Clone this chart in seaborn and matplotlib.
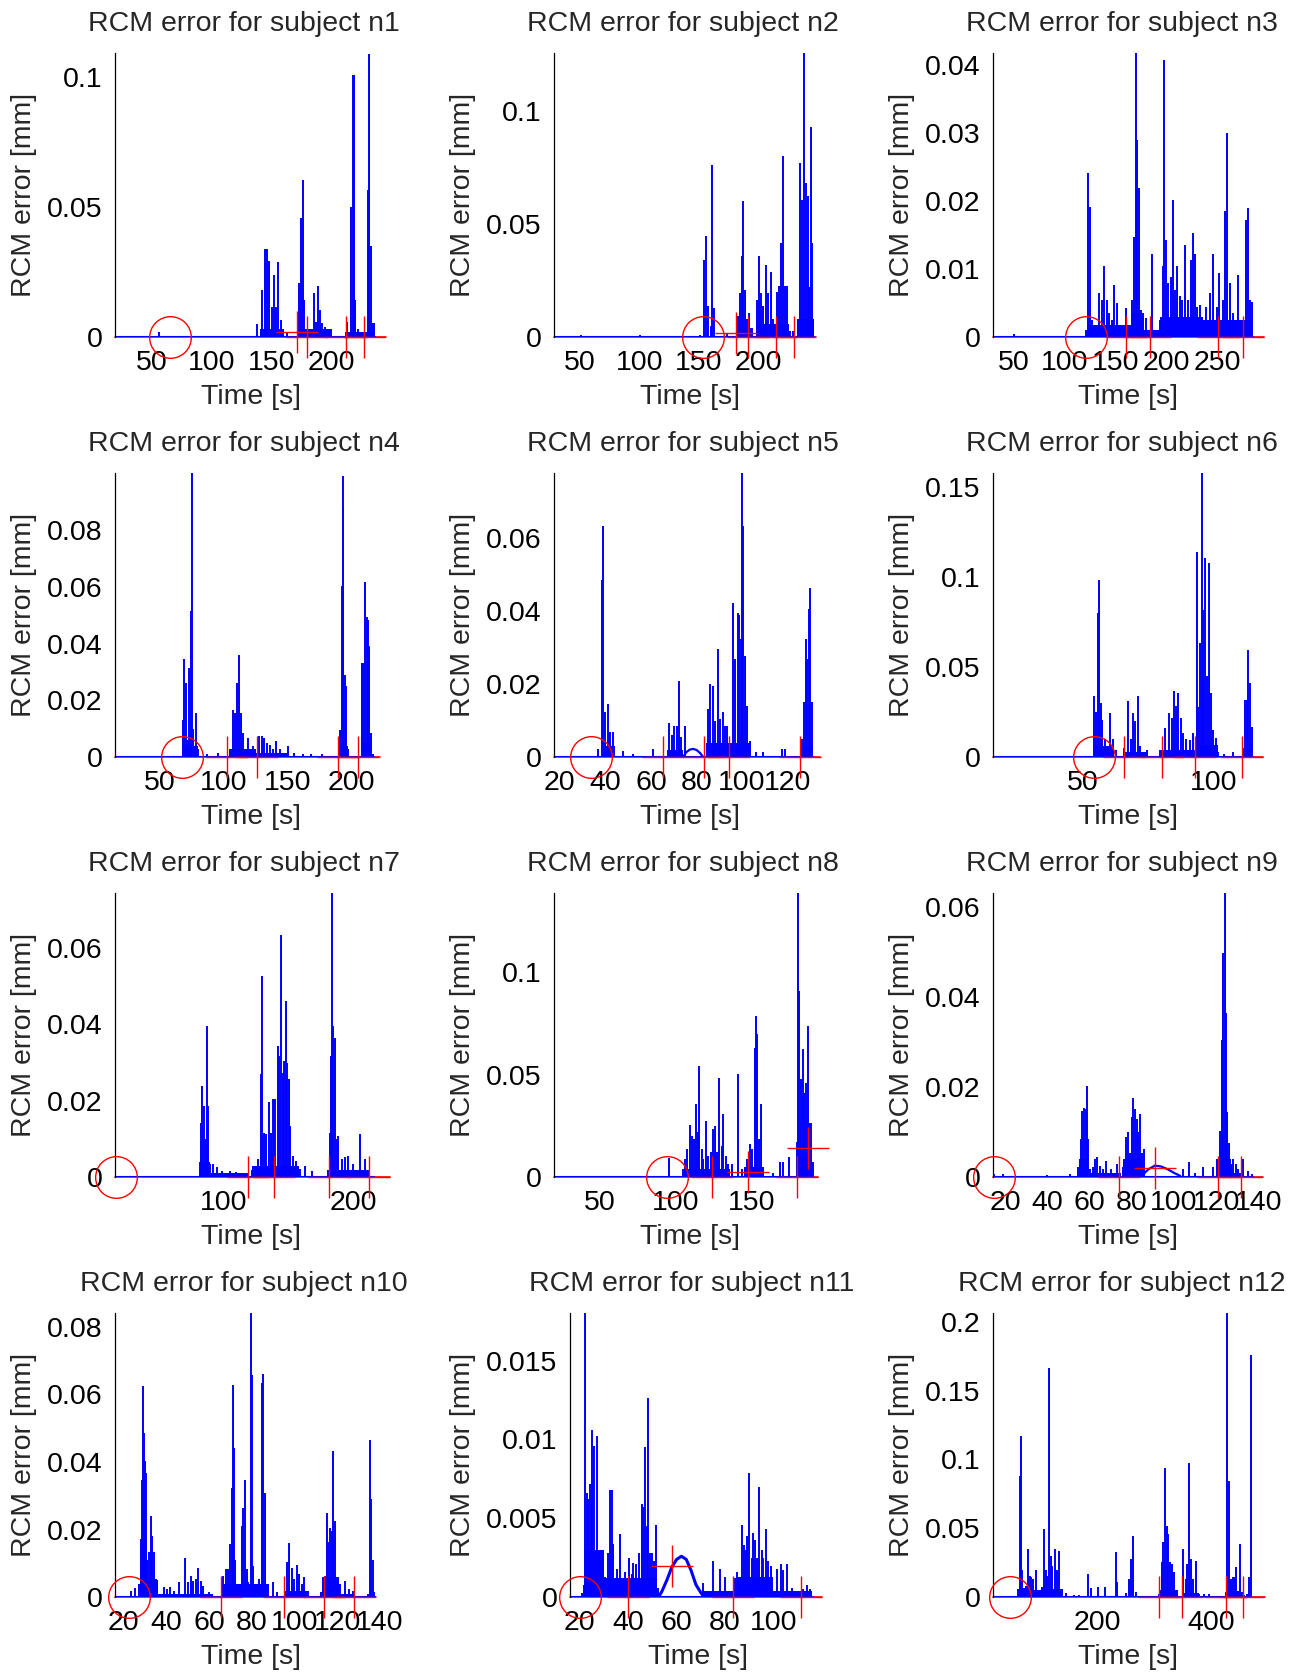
import matplotlib
matplotlib.use('Agg')
import matplotlib.pyplot as plt
import seaborn as sns

sns.set_style('white')
plt.rcParams['font.family'] = ['Liberation Sans', 'DejaVu Sans']

# ---- data: (time [s], RCM error [mm]) spike peaks ----
n1_spikes = [(56.4, 0.002), (137.5, 0.005), (142.2, 0.018), (144.4, 0.034), (145.8, 0.034), (148.0, 0.0295),
             (150.0, 0.0115), (152.0, 0.024), (153.6, 0.0115), (155.6, 0.029), (157.5, 0.0067), (159.7, 0.003),
             (163.0, 0.0015), (173.0, 0.021), (174.4, 0.046), (175.8, 0.0605), (177.0, 0.0144), (179.0, 0.003),
             (185.3, 0.017), (187.0, 0.006), (188.9, 0.0197), (190.3, 0.0105), (191.7, 0.0056), (194.5, 0.004),
             (198.6, 0.002), (212.5, 0.006), (215.8, 0.05), (217.5, 0.101), (218.6, 0.101), (219.7, 0.0144),
             (222.0, 0.003), (226.0, 0.0015), (230.6, 0.0567), (231.4, 0.109), (232.5, 0.035), (234.2, 0.0054),
             (235.3, 0.0056)]
n2_spikes = [(51, 0.0008), (100.6, 0.0008), (151, 0.0008), (154.8, 0.0343), (155.9, 0.0446), (157.6, 0.0137),
             (160, 0.005), (161.5, 0.0759), (162.9, 0.013), (173.6, 0.002), (182.9, 0.0093), (184.8, 0.0196),
             (186.2, 0.0357), (187.6, 0.060), (189, 0.021), (191, 0.008), (192.7, 0.0107), (194.7, 0.003),
             (198.9, 0.0166), (201.1, 0.0357), (202.5, 0.0196), (204.5, 0.0137), (206.7, 0.032), (208.7, 0.0196),
             (210.7, 0.029), (212.4, 0.008), (216.3, 0.0198), (218, 0.0225), (219.1, 0.0416), (220.8, 0.0799),
             (222.8, 0.0225), (224.7, 0.0225), (227, 0.003), (229.8, 0.003), (235.4, 0.0769), (236.8, 0.0607),
             (238.8, 0.1254), (240.4, 0.068), (241.8, 0.0622), (243.3, 0.022), (244.4, 0.093), (245.5, 0.0416)]
n3_spikes = [(50, 0.0005), (120.7, 0.001), (123, 0.0241), (124.7, 0.0192), (126.5, 0.0025), (133.8, 0.0065),
             (136.1, 0.0055), (138.7, 0.0104), (141, 0.0055), (143.6, 0.0035), (146, 0.0025), (148.2, 0.0077),
             (151.5, 0.005), (155, 0.0018), (160, 0.0043), (165.6, 0.0055), (167.9, 0.0148), (169.5, 0.0417),
             (170.5, 0.029), (172.5, 0.0219), (174.4, 0.004), (179.7, 0.0028), (185.2, 0.0123), (193.4, 0.0025),
             (196, 0.0104), (197.7, 0.0407), (199.3, 0.0143), (201.6, 0.0079), (204.2, 0.0089), (206.5, 0.0202),
             (208.2, 0.007), (210.4, 0.0104), (213, 0.006), (215.3, 0.0055), (218, 0.0136), (220.6, 0.0055),
             (223.5, 0.0114), (226.2, 0.0153), (227.8, 0.0123), (230.1, 0.0045), (232.7, 0.0047), (236, 0.0025),
             (238.6, 0.0045), (242.5, 0.0065), (245.8, 0.0123), (249.1, 0.0045), (251.7, 0.0094), (255, 0.0055),
             (257.3, 0.0185), (259.6, 0.030), (262.2, 0.0079), (265.5, 0.0035), (269.7, 0.0092), (272.5, 0.002),
             (277.9, 0.0172), (279.5, 0.019), (281.8, 0.0055), (283.5, 0.0052)]
n4_spikes = [(67.7, 0.0132), (69, 0.0346), (70.3, 0.0261), (71.6, 0.006), (73, 0.0314), (74, 0.0513),
             (74.8, 0.0999), (76.1, 0.01), (78.2, 0.0156), (80, 0.003), (87, 0.001), (95.6, 0.0015), (104.8, 0.003),
             (106.9, 0.0167), (108.7, 0.0156), (110.5, 0.0261), (112.1, 0.0361), (113.4, 0.0156), (115.2, 0.0086),
             (119.1, 0.0068), (123, 0.004), (127.7, 0.0076), (129.6, 0.0074), (131.4, 0.0068), (133.5, 0.005),
             (136.1, 0.0045), (138.5, 0.003), (140.8, 0.0056), (143.9, 0.003), (150.4, 0.0038), (155, 0.0015),
             (162.2, 0.0012), (168, 0.001), (177, 0.001), (190.8, 0.0097), (192.1, 0.0601), (192.9, 0.0988),
             (193.5, 0.0882), (194.5, 0.029), (195.5, 0.025), (197, 0.003), (207.8, 0.0331), (209.1, 0.0331),
             (210.4, 0.0618), (211.7, 0.0495), (213, 0.0484), (213.8, 0.039), (214.8, 0.0086), (216.9, 0.001)]
n5_spikes = [(36.8, 0.0023), (38.3, 0.0486), (39, 0.0632), (39.8, 0.0123), (40.9, 0.0145), (41.9, 0.0068),
             (43.1, 0.007), (47.5, 0.0018), (52.2, 0.001), (61, 0.0023), (68, 0.0095), (69.3, 0.006), (70.2, 0.0086),
             (71.2, 0.0086), (72.1, 0.0209), (73, 0.0055), (74.9, 0.0086), (85.1, 0.0132), (86.1, 0.020),
             (87, 0.0195), (88, 0.010), (89.2, 0.0295), (90.2, 0.0105), (91.4, 0.0123), (92.4, 0.0086),
             (93.5, 0.0086), (95.8, 0.0423), (96.8, 0.0268), (98, 0.0395), (98.7, 0.039), (99.5, 0.0323),
             (100, 0.0777), (100.5, 0.0632), (101.2, 0.0277), (102.2, 0.0141), (103.4, 0.0045), (106, 0.0014),
             (109, 0.0014), (117.3, 0.0023), (118.8, 0.0023), (126.5, 0.005), (127.3, 0.015), (128, 0.0323),
             (128.7, 0.0268), (129.5, 0.0405), (130, 0.0464), (130.6, 0.015)]
n6_spikes = [(50, 0.0008), (54.1, 0.0338), (54.9, 0.025), (55.5, 0.0799), (56.2, 0.0983), (56.8, 0.030),
             (57.4, 0.0208), (58.3, 0.01), (59.2, 0.006), (60.3, 0.0245), (61.3, 0.01), (62.5, 0.004), (65.6, 0.005),
             (67.3, 0.031), (68.2, 0.01), (69.2, 0.0245), (69.9, 0.020), (71.2, 0.0338), (72, 0.006), (74.4, 0.004),
             (79.5, 0.004), (81.4, 0.0162), (83.1, 0.0245), (84, 0.022), (84.9, 0.0365), (85.6, 0.0282),
             (86.5, 0.0356), (87.4, 0.022), (88.5, 0.0135), (89.5, 0.01), (91, 0.0098), (92.3, 0.0135),
             (93.6, 0.114), (94.2, 0.028), (94.9, 0.0633), (95.5, 0.1574), (96.2, 0.0817), (96.8, 0.1103),
             (97.4, 0.0448), (98.3, 0.1076), (99, 0.0356), (100, 0.0153), (101, 0.0107), (102, 0.003), (104, 0.002),
             (107.4, 0.003), (111.3, 0.005), (112.2, 0.032), (112.8, 0.032), (113.5, 0.0596), (114.1, 0.0411),
             (114.7, 0.017)]
n7_spikes = [(82.1, 0.004), (82.8, 0.0143), (83.8, 0.0239), (85.1, 0.0187), (86.4, 0.010), (87.2, 0.0396),
             (88.5, 0.0187), (89.7, 0.0035), (92.3, 0.0035), (95, 0.0026), (98.7, 0.0017), (105, 0.0017),
             (110, 0.0015), (121.8, 0.002), (126.9, 0.0048), (128.7, 0.027), (129.5, 0.0526), (131.3, 0.0117),
             (132.6, 0.0113), (135.4, 0.0196), (137, 0.0117), (138.5, 0.0204), (139.7, 0.0204), (141.8, 0.0343),
             (143.1, 0.0317), (144.4, 0.0635), (145.6, 0.0274), (146.9, 0.0304), (148.2, 0.0461), (149.2, 0.030),
             (150.3, 0.0257), (151.3, 0.0134), (153.3, 0.0057), (155.9, 0.0043), (159, 0.0022), (162.8, 0.003),
             (168, 0.0017), (180.8, 0.002), (182.1, 0.0117), (182.8, 0.0317), (183.6, 0.0743), (184.6, 0.0396),
             (185.6, 0.0365), (187.2, 0.0100), (188.5, 0.0109), (191, 0.0048), (193.6, 0.0052), (196.2, 0.0057),
             (199.5, 0.0035), (205.1, 0.0113), (209, 0.0048), (212.3, 0.002)]
n8_spikes = [(50, 0.0008), (95.3, 0.0092), (99.4, 0.0008), (104.9, 0.004), (106, 0.0089), (107.6, 0.0138),
             (109.3, 0.0254), (110.9, 0.0203), (112, 0.0186), (113.3, 0.0357), (114.4, 0.0219), (115.5, 0.0543),
             (117, 0.0138), (118.1, 0.0089), (119.9, 0.0276), (121.4, 0.0105), (123, 0.0122), (124.3, 0.0235),
             (125.8, 0.0251), (127.3, 0.0122), (128.7, 0.0486), (130.2, 0.0154), (131.3, 0.0308), (132.8, 0.0105),
             (134.6, 0.0065), (136.8, 0.0065), (141.2, 0.0502), (143.4, 0.004), (146.7, 0.0089), (148.9, 0.0162),
             (150.4, 0.0138), (152, 0.0632), (152.6, 0.0786), (153.7, 0.0697), (155, 0.0186), (156.1, 0.0357),
             (157.7, 0.004), (164.3, 0.002), (168.7, 0.0076), (170.4, 0.0076), (174.8, 0.0097), (179.6, 0.017),
             (180.7, 0.1386), (181.4, 0.0908), (182.5, 0.0478), (183.6, 0.0624), (184.7, 0.0413), (185.8, 0.0462),
             (186.9, 0.0737), (188, 0.0267), (189.1, 0.0267), (190.2, 0.0073)]
n9_spikes = [(15, 0.0007), (19.2, 0.0007), (39.7, 0.0005), (50.8, 0.0008), (54.7, 0.0022), (55.8, 0.0085),
             (56.6, 0.0148), (57.4, 0.0155), (58.2, 0.0151), (58.7, 0.0203), (59.5, 0.0085), (60.3, 0.0018),
             (61.5, 0.0022), (62.6, 0.0041), (63.7, 0.0044), (65, 0.0026), (66.3, 0.0018), (67.8, 0.0037),
             (70.1, 0.0018), (72.9, 0.003), (76.1, 0.0022), (77.2, 0.0089), (78.1, 0.010), (79.2, 0.0055),
             (80, 0.0133), (80.8, 0.0177), (81.6, 0.0151), (82.4, 0.0129), (83.2, 0.010), (84, 0.014),
             (84.8, 0.0055), (85.8, 0.0063), (104.5, 0.0018), (107.3, 0.0035), (110, 0.001), (114, 0.0022),
             (118.7, 0.0022), (121.8, 0.0103), (122.6, 0.0306), (123.4, 0.0498), (124, 0.0631), (124.7, 0.0365),
             (125.3, 0.0144), (126.1, 0.0077), (126.9, 0.003), (128.2, 0.0041), (129.4, 0.003), (130.5, 0.0018),
             (132.6, 0.0041), (135, 0.0015), (136.8, 0.0007)]
n10_spikes = [(23.4, 0.002), (25.5, 0.0027), (27.5, 0.004), (28.1, 0.0172), (28.6, 0.0348), (29, 0.0623),
              (29.7, 0.0486), (30.1, 0.0402), (30.6, 0.0368), (31.2, 0.011), (32.2, 0.0133), (32.9, 0.024),
              (33.6, 0.0182), (34.3, 0.0133), (35.1, 0.0054), (39, 0.003), (40.6, 0.0025), (41.8, 0.003),
              (43.7, 0.002), (46, 0.0044), (48.8, 0.0115), (50.4, 0.0044), (51.5, 0.0064), (52.7, 0.0049),
              (54, 0.0054), (55.1, 0.0088), (56.2, 0.0049), (57.4, 0.0034), (60.2, 0.0015), (66.8, 0.0064),
              (67.8, 0.0083), (68.8, 0.0083), (69.9, 0.0157), (70.6, 0.0324), (71.1, 0.0628), (71.7, 0.0442),
              (72.4, 0.011), (73.3, 0.003), (75.3, 0.0211), (76.1, 0.0265), (76.9, 0.0348), (77.7, 0.0083),
              (78.4, 0.0044), (79.5, 0.0839), (80.2, 0.0658), (80.8, 0.0093), (82.3, 0.0025), (83.6, 0.0054),
              (84.7, 0.0633), (85.5, 0.0661), (86.2, 0.0309), (87, 0.003), (89.8, 0.0044), (91.7, 0.0015),
              (96.7, 0.0105), (97.6, 0.016), (98.7, 0.0088), (99.8, 0.0054), (101, 0.0095), (102.1, 0.0069),
              (103.4, 0.0039), (104.5, 0.0059), (106.5, 0.002), (112.3, 0.0015), (114.3, 0.0064), (115.1, 0.025),
              (115.8, 0.0162), (116.6, 0.0206), (117.4, 0.0196), (118.2, 0.0432), (119, 0.0226), (120, 0.0044),
              (121.3, 0.0039), (123.6, 0.0049), (125.3, 0.0025), (127.2, 0.002), (134.5, 0.001), (135.3, 0.0466),
              (135.9, 0.029), (136.6, 0.011), (137.2, 0.0015)]
n11_spikes = [(20.7, 0.0003), (21.7, 0.0008), (22.3, 0.018), (22.8, 0.0066), (23.4, 0.0062), (24.1, 0.0072),
              (24.8, 0.0075), (25.2, 0.0106), (25.8, 0.0096), (26.5, 0.003), (27.2, 0.0102), (27.9, 0.0024),
              (28.6, 0.002), (29.2, 0.002), (30.3, 0.0013), (31.5, 0.0028), (32.4, 0.0068), (33.1, 0.0068),
              (33.8, 0.0034), (35.2, 0.0018), (36.6, 0.004), (37.7, 0.0012), (38.6, 0.0016), (40.3, 0.0025),
              (41.4, 0.0015), (42.1, 0.0022), (43.2, 0.0021), (44.4, 0.0028), (45.5, 0.0059), (46.2, 0.0057),
              (46.9, 0.0095), (47.6, 0.0045), (48.3, 0.0126), (49, 0.0028), (49.7, 0.0028), (50.6, 0.0023),
              (51.5, 0.0046), (52.4, 0.0006), (71, 0.0009), (75.2, 0.0023), (77.9, 0.0018), (80, 0.0013),
              (84.2, 0.0012), (85.1, 0.0016), (86.9, 0.0046), (87.9, 0.0033), (88.7, 0.003), (89.3, 0.0039),
              (90.1, 0.0079), (91.1, 0.0025), (91.7, 0.0041), (92.4, 0.0036), (93.4, 0.0025), (94.2, 0.007),
              (95.2, 0.003), (95.9, 0.0025), (96.8, 0.0043), (98, 0.0023), (99.1, 0.002), (101.4, 0.0018),
              (103.1, 0.0021), (104.2, 0.0017), (105.8, 0.0021), (107.6, 0.0006), (112.4, 0.0005), (113.8, 0.0008),
              (115.2, 0.0005)]
n12_spikes = [(60.7, 0.006), (63, 0.088), (64.8, 0.1169), (67.7, 0.02), (70.7, 0.007), (74, 0.008),
              (77.7, 0.0349), (80.7, 0.0157), (83.6, 0.0145), (86.5, 0.0133), (91.2, 0.020), (95.4, 0.0024),
              (101.8, 0.0072), (105.9, 0.0494), (108.9, 0.02), (111.8, 0.0157), (114.8, 0.1663), (117.7, 0.0301),
              (120.6, 0.0229), (125.3, 0.0349), (128.3, 0.02), (132.4, 0.0337), (137.1, 0.005), (144.2, 0.003),
              (158.8, 0.0015), (168.5, 0.0015), (183.5, 0.0169), (188, 0.007), (201.8, 0.0072), (213.5, 0.0072),
              (232.3, 0.0325), (235.3, 0.011), (250, 0.003), (255.8, 0.0133), (258.8, 0.0277), (262.9, 0.0446),
              (267.5, 0.004), (308.8, 0.0024), (313.5, 0.0253), (316.4, 0.0398), (319.3, 0.094), (322.3, 0.0518),
              (324.6, 0.0458), (328.2, 0.0253), (332.3, 0.024), (335.2, 0.018), (340, 0.005), (351.7, 0.0349),
              (355.8, 0.0133), (358.7, 0.024), (361.7, 0.0976), (364.6, 0.0277), (368.7, 0.0133), (373.4, 0.0265),
              (379.3, 0.0024), (388, 0.0024), (397, 0.0024), (427.5, 0.0036), (429.3, 0.206), (432.2, 0.0843),
              (435.2, 0.0133), (439.3, 0.0145), (442.8, 0.0145), (445.2, 0.0217), (448.7, 0.0048), (452.2, 0.0386),
              (455.7, 0.0036), (464.6, 0.0024), (467.5, 0.0145), (470.4, 0.1759)]

# dense low-level noise bands: (start, end, level)
n1_bursts = [(140, 160, 0.003), (172, 200, 0.003), (211, 236, 0.002)]
n2_bursts = [(182, 196, 0.004), (198, 226, 0.006), (233, 247, 0.008)]
n3_bursts = [(122, 165, 0.0018), (165, 178, 0.0035), (178, 193, 0.001), (193, 236, 0.003), (236, 284, 0.0025)]
n4_bursts = [(68, 80, 0.004), (104, 125, 0.003), (125, 150, 0.0015), (190, 197, 0.004), (207, 215, 0.005)]
n5_bursts = [(38, 44, 0.003), (67, 74, 0.002), (84, 104, 0.004), (126, 131, 0.003)]
n6_bursts = [(54, 62, 0.006), (66, 75, 0.003), (80, 93, 0.004), (93, 102, 0.007), (111, 115, 0.004)]
n7_bursts = [(82, 90, 0.004), (90, 120, 0.001), (122, 158, 0.003), (180, 212, 0.002)]
n8_bursts = [(105, 136, 0.004), (145, 158, 0.005), (179, 190, 0.01)]
n9_bursts = [(55, 60, 0.004), (60, 75, 0.001), (76, 85, 0.004), (120, 127, 0.004), (127, 133, 0.001)]
n10_bursts = [(28, 36, 0.005), (36, 62, 0.001), (66, 88, 0.004), (95, 106, 0.002), (113, 121, 0.006),
              (121, 128, 0.001)]
n11_bursts = [(22, 30, 0.003), (30, 52, 0.0012), (71, 85, 0.0004), (85, 100, 0.0013), (100, 116, 0.0004)]
n12_bursts = [(60, 100, 0.005), (100, 140, 0.006), (310, 340, 0.005), (350, 380, 0.003), (427, 460, 0.002)]

# slow smooth drifts
n5_hump_t = [74, 75.5, 77, 78.5, 80, 81.5, 83]
n5_hump_v = [0, 0.0014, 0.0021, 0.0023, 0.002, 0.0012, 0]
n9_hump_t = [85, 88, 91, 94, 97, 100, 103]
n9_hump_v = [0.0005, 0.0018, 0.0026, 0.0024, 0.0018, 0.001, 0.0003]
n11_hump_t = [52.5, 54, 56, 58, 60, 62, 64, 66, 68, 70, 71]
n11_hump_v = [0, 0.0004, 0.0011, 0.0019, 0.0024, 0.0026, 0.0024, 0.0017, 0.0008, 0.0003, 0.0001]

# red event markers (time, level), start circle time, end of blue record, end of red line
events = [[(170.8, 0.0022), (179.7, 0), (212.0, 0), (227.2, 0)],
          [(181.5, 0.0019), (191.6, 0), (215.2, 0), (230.6, 0)],
          [(160, 0), (183.6, 0), (250.1, 0), (274.6, 0)],
          [(102.7, 0), (126.2, 0), (189.5, 0), (205.2, 0)],
          [(65.1, 0), (83.4, 0), (94.3, 0), (125.4, 0)],
          [(65.6, 0), (80.4, 0), (92.9, 0), (110.9, 0)],
          [(119.2, 0), (139, 0), (181.5, 0), (212, 0)],
          [(123.6, 0), (147.5, 0.0025), (180.1, 0), (187.3, 0.0143)],
          [(74.2, 0), (91.1, 0.002), (120.7, 0), (131.8, 0)],
          [(65.5, 0), (95.1, 0), (113.8, 0), (128, 0)],
          [(39.7, 0), (58.2, 0.002), (83.5, 0), (111.5, 0)],
          [(308.8, 0), (349.9, 0), (427.5, 0), (457.5, 0)]]
circle_t = [65, 153.9, 120.7, 67, 33.5, 54.1, 17.5, 94, 14.8, 22.8, 20, 45.5]
blue_end = [236, 247.2, 284.4, 217.5, 131.2, 115.1, 215.9, 190.6, 137.3, 137.7, 116.6, 471.6]
red_end = [245, 248.6, 295.9, 222.1, 134.4, 119, 228.2, 194, 142, 138.1, 120, 495.1]

x_lims = [(19.4, 245.2), (28.1, 256.4), (29.4, 295.6), (14.8, 226.9), (17.4, 136.4), (15.3, 119.5),
          (16.7, 225.2), (19.7, 198.3), (14.3, 142.7), (16.1, 142.8), (15.9, 121.4), (16, 494)]
y_tops = [0.1092, 0.1254, 0.0417, 0.0999, 0.0777, 0.1574, 0.0743, 0.1386, 0.0631, 0.0839, 0.01799, 0.206]
x_ticks = [[50, 100, 150, 200], [50, 100, 150, 200], [50, 100, 150, 200, 250], [50, 100, 150, 200],
           [20, 40, 60, 80, 100, 120], [50, 100], [100, 200], [50, 100, 150],
           [20, 40, 60, 80, 100, 120, 140], [20, 40, 60, 80, 100, 120, 140], [20, 40, 60, 80, 100], [200, 400]]
y_ticks = [[0, 0.05, 0.1], [0, 0.05, 0.1], [0, 0.01, 0.02, 0.03, 0.04], [0, 0.02, 0.04, 0.06, 0.08],
           [0, 0.02, 0.04, 0.06], [0, 0.05, 0.1, 0.15], [0, 0.02, 0.04, 0.06], [0, 0.05, 0.1],
           [0, 0.02, 0.04, 0.06], [0, 0.02, 0.04, 0.06, 0.08], [0, 0.005, 0.01, 0.015],
           [0, 0.05, 0.1, 0.15, 0.2]]

spikes = [n1_spikes, n2_spikes, n3_spikes, n4_spikes, n5_spikes, n6_spikes,
          n7_spikes, n8_spikes, n9_spikes, n10_spikes, n11_spikes, n12_spikes]
bursts = [n1_bursts, n2_bursts, n3_bursts, n4_bursts, n5_bursts, n6_bursts,
          n7_bursts, n8_bursts, n9_bursts, n10_bursts, n11_bursts, n12_bursts]
humps = {4: (n5_hump_t, n5_hump_v), 8: (n9_hump_t, n9_hump_v), 10: (n11_hump_t, n11_hump_v)}

# ---- layout (pixels of a 1306x1673 canvas) ----
W, H = 1306, 1673
ax_left = [115, 554, 993, 115, 554, 993, 115, 554, 993, 115, 570, 993]
ax_width = [271] * 10 + [255, 271]
ax_h = 284
row_top = [53.3, 473.3, 893.3, 1313.3]
FS = 20.5

fig = plt.figure(figsize=(W / 100, H / 100), dpi=100)

for i in range(12):
    row = i // 3
    ax = fig.add_axes([ax_left[i] / W, 1 - (row_top[row] + ax_h) / H, ax_width[i] / W, ax_h / H])
    x0, x1 = x_lims[i]

    # red reference line and blue baseline
    ax.plot([x0, red_end[i]], [0, 0], color='red', lw=1.2, zorder=1, clip_on=False)
    sns.lineplot(x=[x0, blue_end[i]], y=[0, 0], ax=ax, color='blue', lw=1.5, zorder=2)

    for a, b, lvl in bursts[i]:
        ax.fill_between([a, b], 0, lvl, color='blue', lw=0, zorder=2)
    ts = [p[0] for p in spikes[i]]
    vs = [p[1] for p in spikes[i]]
    ax.vlines(ts, 0, vs, color='blue', lw=1.4, zorder=3)

    if i in humps:
        ht, hv = humps[i]
        sns.lineplot(x=ht, y=hv, ax=ax, color='blue', lw=2.2 if i == 10 else 1.6, zorder=3)

    et = [e[0] for e in events[i]]
    ev = [e[1] for e in events[i]]
    ax.plot(et, ev, '+', color='red', ms=30, mew=1.0, zorder=4, clip_on=False)
    ax.plot([circle_t[i]], [0], 'o', mfc='none', mec='red', ms=30, mew=1.0, zorder=4, clip_on=False)

    ax.set_xlim(x0, x1)
    ax.set_ylim(0, y_tops[i])
    ax.set_xticks(x_ticks[i])
    ax.set_xticklabels([f'{v:g}' for v in x_ticks[i]])
    ax.set_yticks(y_ticks[i])
    ax.set_yticklabels([f'{v:g}' for v in y_ticks[i]])
    ax.tick_params(direction='in', length=4, width=0.8, labelsize=FS, pad=9, colors='black')
    ax.set_axisbelow(True)
    for side in ['top', 'right', 'bottom']:
        ax.spines[side].set_visible(False)
    ax.spines['left'].set_color('black')
    ax.spines['left'].set_linewidth(0.9)

    ax.set_title(f'RCM error for subject n{i + 1}', fontsize=FS, pad=16, x=0.476)
    ax.set_xlabel('Time [s]', fontsize=FS, labelpad=6)
    ax.set_ylabel('RCM error [mm]', fontsize=FS, labelpad=7)

fig.savefig('out.png', dpi=100)
